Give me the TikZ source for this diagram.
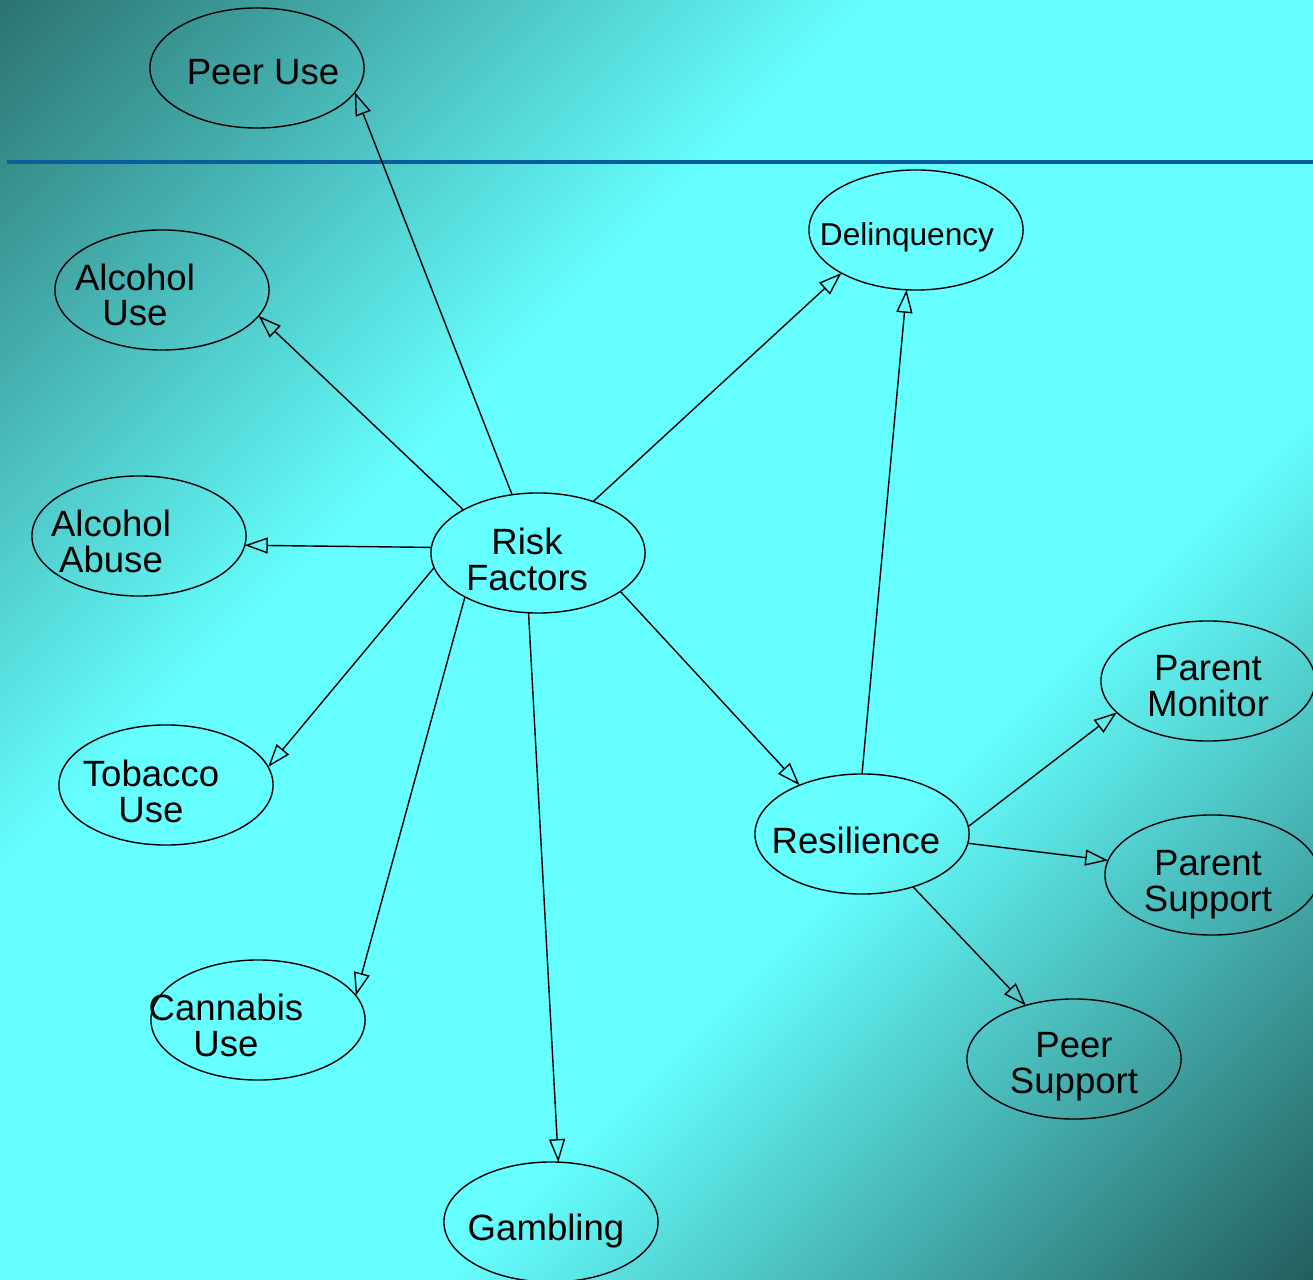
\documentclass[tikz,border=0pt]{standalone}
\usepackage{fontspec}
\setmainfont{Liberation Sans}
\usetikzlibrary{shapes.geometric,arrows.meta}
\definecolor{tealdark}{RGB}{42,112,110}
\definecolor{cyanbg}{RGB}{102,255,255}
\definecolor{tealdeep}{RGB}{34,90,90}
\definecolor{rulecolor}{RGB}{10,95,155}
% only about 14bp..86bp of the rotated shading lands on the page
\pgfdeclarehorizontalshading{bgfade}{100bp}{color(0bp)=(tealdark); color(14bp)=(tealdark);
  color(38.5bp)=(cyanbg); color(61.5bp)=(cyanbg); color(86bp)=(tealdeep); color(100bp)=(tealdeep)}

\begin{document}
\begin{tikzpicture}[x=0.01cm,y=-0.01cm,
      bub/.style={ellipse,draw,line width=0.4pt,minimum width=2.14cm,minimum height=1.2cm,
                  inner sep=0pt,outer sep=0pt},
      lbl/.style={align=center,inner sep=0pt,font=\fontsize{10.4}{10.2}\selectfont},
      edge/.style={line width=0.4pt,-{Triangle[open,length=2.3mm,width=1.6mm]}}]

    % ---- background and rule --------------------------------------------
    \useasboundingbox (0,0) rectangle (1313,1280);
    \shade[shading=bgfade,shading angle=-45] (0,0) rectangle (1313,1280);
    \draw[rulecolor,line width=1pt] (7,162) -- (1313,162);

    % ---- hub -------------------------------------------------------------
    \node[bub] (rf) at (538,553) {};
    \node[lbl] (rf-t) at (527,559) {Risk\\Factors};

    % ---- outcomes of risk ------------------------------------------------
    \node[bub] (pu) at (257,68) {};
    \node[lbl] (pu-t) at (263,72) {Peer Use};
    \node[bub] (au) at (162,290) {};
    \node[lbl] (au-t) at (135,295) {Alcohol\\Use};
    \node[bub] (ab) at (139,536) {};
    \node[lbl] (ab-t) at (111,541) {Alcohol\\Abuse};
    \node[bub] (tu) at (166,785) {};
    \node[lbl] (tu-t) at (151,791) {Tobacco\\Use};
    \node[bub] (cu) at (258,1020) {};
    \node[lbl] (cu-t) at (226,1025) {Cannabis\\Use};
    \node[bub] (ga) at (551,1222) {};
    \node[lbl] (ga-t) at (546,1231) {Gambling};
    \node[bub] (dq) at (916,230) {};
    \node[lbl,font=\fontsize{9}{9}\selectfont] (dq-t) at (907,237) {Delinquency};

    % ---- resilience side -------------------------------------------------
    \node[bub] (re) at (862,834) {};
    \node[lbl] (re-t) at (856,840) {Resilience};
    \node[bub] (pm) at (1208,681) {};
    \node[lbl] (pm-t) at (1208,686) {Parent\\Monitor};
    \node[bub] (pa) at (1212,875) {};
    \node[lbl] (pa-t) at (1208,885) {Parent\\Support};
    \node[bub] (ps) at (1074,1059) {};
    \node[lbl] (ps-t) at (1074,1067) {Peer\\Support};

    % ---- edges -----------------------------------------------------------
    \draw[edge] (rf.114.6) -- (pu.-14.3);
    \draw[edge] (rf.150.9) -- (au.-15);
    \draw[edge] (rf.177.3) -- (ab.-5.9);
    \draw[edge] (rf.-172.4) -- (tu.10.5);
    \draw[edge] (rf.-149.4) -- (cu.14.5);
    \draw[edge] (rf.-99.3) -- (ga.83.2);
    \draw[edge] (rf.43.4) -- (dq.-150.8);
    \draw[edge] (rf.-25.7) -- (re.142.6);
    \draw[edge] (re.90.9) -- (dq.-99.5);
    \draw[edge] (re.4.2) -- (pm.-161.8);
    \draw[edge] (re.-5.8) -- (pa.172.7);
    \draw[edge] (re.-46.1) -- (ps.132.2);
  \end{tikzpicture}
\end{document}
